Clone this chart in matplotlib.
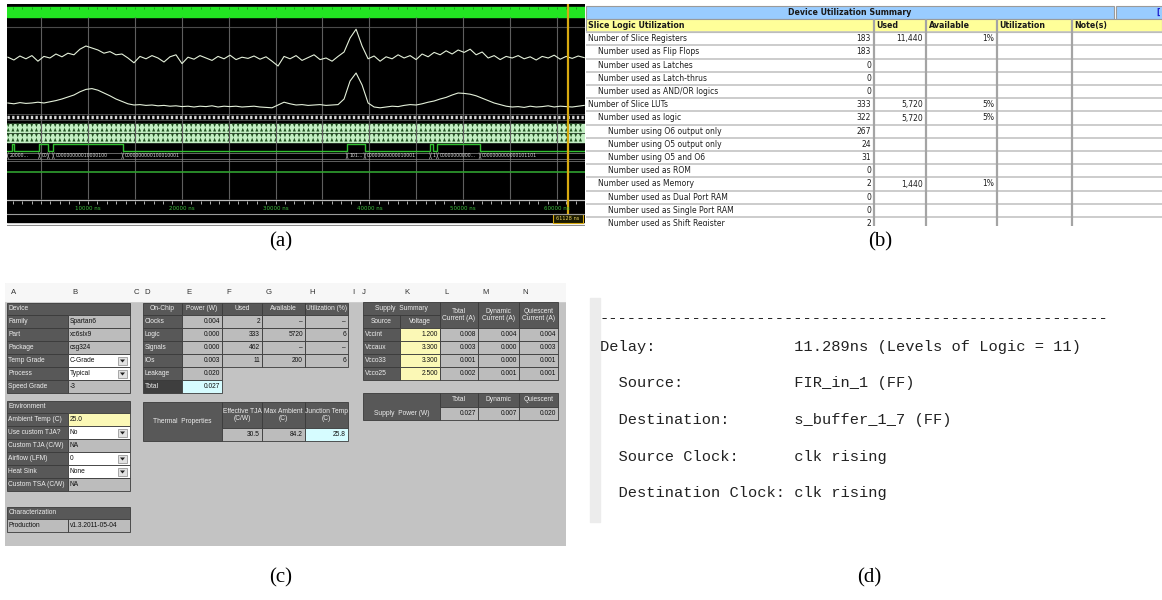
import numpy as np
import matplotlib.pyplot as plt
from matplotlib.patches import Rectangle, Polygon

plt.rcParams['font.family'] = ['DejaVu Sans']

W, H = 1162, 600

# ---------------- (a) simulation waveform ----------------
trace_start_ns = 1460
trace_step_ns = 640
filter_in = [32, 25, 35, 28, 36, 22, 34, 30, 40, 33,
             42, 38, 52, 60, 55, 50, 42, 46, 38, 40,
             30, 18, 34, 28, 36, 30, 20, 33, 38, 16,
             32, 27, 36, 30, 24, 34, 28, 37, 26, 32,
             29, 35, 27, 33, 22, 10, 34, 28, 36, 24,
             31, 38, 26, 30, 22, 34, 45, 80, 102, 60,
             28, 35, 22, 33, 28, 38, 30, 36, 26, 40,
             33, 44, 38, 48, 40, 50, 44, 52, 38, 45,
             30, 36, 26, 34, 30, 36, 28, 33, 25, 34,
             30, 37, 27, 34, 29, 35, 31]
filter_out = [30, 28, 31, 29, 30, 32, 30, 33, 36, 40,
              45, 50, 58, 64, 66, 62, 55, 48, 40, 34,
              28, 25, 26, 24, 25, 23, 24, 22, 23, 21,
              22, 20, 22, 21, 23, 20, 22, 21, 22, 20,
              21, 22, 20, 19, 18, 25, 32, 28, 25, 26,
              24, 25, 26, 24, 25, 26, 40, 85, 105, 75,
              30, 20, 18, 20, 22, 21, 24, 26, 25, 28,
              32, 35, 40, 44, 50, 55, 54, 52, 48, 42,
              36, 30, 26, 22, 20, 21, 19, 22, 20, 21,
              23, 20, 22, 21, 20, 22, 24]
valid_edges_ns = [1850, 2060, 4820, 5770, 6300, 13700, 37620, 39520,
                  46510, 46830, 47250, 51800]
bus_edges_ns = [1400, 4820, 5770, 6300, 13700, 37620, 39520, 46510, 47250, 51800]
bus_values = ['20000...', '00', '', '000000000010000100', '0000000000100010001',
              '101...', '00000000000010001', '1', '00000000000...',
              '0000000000000101101']
time_labels_ns = [10000, 20000, 30000, 40000, 50000, 60000]
cursor_ns = 61128

# ---------------- (b) device utilization ----------------
util_labels = ['Number of Slice Registers', 'Number used as Flip Flops',
               'Number used as Latches', 'Number used as Latch-thrus',
               'Number used as AND/OR logics', 'Number of Slice LUTs',
               'Number used as logic', 'Number using O6 output only',
               'Number using O5 output only', 'Number using O5 and O6',
               'Number used as ROM', 'Number used as Memory',
               'Number used as Dual Port RAM', 'Number used as Single Port RAM',
               'Number used as Shift Register']
util_level = [0, 1, 1, 1, 1, 0, 1, 2, 2, 2, 2, 1, 2, 2, 2]
util_used = ['183', '183', '0', '0', '0', '333', '322', '267', '24', '31', '0',
             '2', '0', '0', '2']
util_avail = ['11,440', '', '', '', '', '5,720', '5,720', '', '', '', '',
              '1,440', '', '', '']
util_pct = ['1%', '', '', '', '', '5%', '5%', '', '', '', '', '1%', '', '', '']
util_headers = ['Slice Logic Utilization', 'Used', 'Available', 'Utilization', 'Note(s)']

# ---------------- (c) power estimator ----------------
sheet_cols = list('ABCDEFGHIJKLMN')
device_labels = ['Family', 'Part', 'Package', 'Temp Grade', 'Process', 'Speed Grade']
device_values = ['Spartan6', 'xc6slx9', 'csg324', 'C-Grade', 'Typical', '-3']
device_kinds = ['grey', 'grey', 'grey', 'drop', 'drop', 'grey']
env_labels = ['Ambient Temp (C)', 'Use custom TJA?', 'Custom TJA (C/W)',
              'Airflow (LFM)', 'Heat Sink', 'Custom TSA (C/W)']
env_values = ['25.0', 'No', 'NA', '0', 'None', 'NA']
env_kinds = ['input', 'drop', 'grey', 'drop', 'drop', 'grey']
char_labels = ['Production']
char_values = ['v1.3.2011-05-04']
onchip_headers = ['On-Chip', 'Power (W)', 'Used', 'Available', 'Utilization (%)']
onchip_rows = ['Clocks', 'Logic', 'Signals', 'IOs', 'Leakage', 'Total']
onchip_power = ['0.004', '0.000', '0.000', '0.003', '0.020', '0.027']
onchip_used = ['2', '333', '462', '11', None, None]
onchip_avail = ['---', '5720', '---', '200', None, None]
onchip_util = ['---', '6', '---', '6', None, None]
thermal_headers = ['Effective TJA\n(C/W)', 'Max Ambient\n(C)', 'Junction Temp\n(C)']
thermal_values = ['30.5', '84.2', '25.8']
supply_sources = ['Vccint', 'Vccaux', 'Vcco33', 'Vcco25']
supply_voltage = ['1.200', '3.300', '3.300', '2.500']
supply_total = ['0.008', '0.003', '0.001', '0.002']
supply_dynamic = ['0.004', '0.000', '0.000', '0.001']
supply_quiescent = ['0.004', '0.003', '0.001', '0.001']
current_headers = ['Total', 'Dynamic', 'Quiescent']
supply_power = ['0.027', '0.007', '0.020']

# ---------------- (d) timing report ----------------
timing_keys = ['Delay:', '  Source:', '  Destination:', '  Source Clock:',
               '  Destination Clock:']
timing_values = ['11.289ns (Levels of Logic = 11)', 'FIR_in_1 (FF)',
                 's_buffer_1_7 (FF)', 'clk rising', 'clk rising']

panel_labels = ['(a)', '(b)', '(c)', '(d)']

# ======================================================================
fig = plt.figure(figsize=(W / 100, H / 100), dpi=100)
base = fig.add_axes([0, 0, 1, 1])
base.set_xlim(0, W)
base.set_ylim(H, 0)
base.axis('off')


def panel(x0, y0, x1, y1):
    ax = fig.add_axes([x0 / W, 1 - y1 / H, (x1 - x0) / W, (y1 - y0) / H])
    ax.set_xlim(x0, x1)
    ax.set_ylim(y1, y0)
    ax.axis('off')
    return ax


# ---------------- panel (a) ----------------
axA = panel(7, 4, 585, 226)
PX_PER_NS = 46.9 / 5000
X0 = -5.8


def tx(t):
    return X0 + np.asarray(t, dtype=float) * PX_PER_NS


axA.add_patch(Rectangle((7, 4), 578, 218, color='black'))
axA.axhline(224.5, color='#8c8c8c', lw=0.8)
axA.add_patch(Rectangle((7, 7), 578, 10, color='#22e622'))
axA.vlines(tx(np.arange(1000, 63000, 1000)), 7, 9, color='#149414', lw=0.6)
axA.axhline(27, color='#4a4a4a', lw=0.8)
axA.vlines(tx(np.arange(5000, 61000, 5000)), 17, 199, color='#5e5e5e', lw=0.8)

t_samples = trace_start_ns + trace_step_ns * np.arange(len(filter_in))
axA.plot(tx(t_samples), 70 - 0.4 * np.array(filter_in), color='#e4f0da', lw=0.8)
axA.plot(tx(t_samples), 115 - 0.4 * np.array(filter_out), color='#e4f0da', lw=0.8)

# dotted bus
axA.hlines([114.3, 119.7], 7, 585, color='#6a6a6a', lw=0.5)
axA.hlines(117, 7, 585, color='#d6d6d6', lw=2.4, linestyles=(0, (0.7, 0.7)))

# two fast busses
clk_edges = tx(np.arange(1000, 63000, 500))
for yc in (127.5, 137.5):
    axA.add_patch(Rectangle((7, yc - 4), 578, 8, color='#c2eec2'))
    for xe in clk_edges:
        axA.add_patch(Polygon([(xe - 1.5, yc - 4), (xe + 1.5, yc - 4), (xe, yc - 0.3)],
                              color='#1f4f1f', lw=0))
        axA.add_patch(Polygon([(xe - 1.5, yc + 4), (xe + 1.5, yc + 4), (xe, yc + 0.3)],
                              color='#1f4f1f', lw=0))

# valid signal
t_steps = [0] + valid_edges_ns + [64000]
levels = [(k % 2) for k in range(len(t_steps))]
axA.step(tx(t_steps), [151 - 7 * v for v in levels], where='post', color='#30c030', lw=1.0)

# output value bus
axA.hlines([152.8, 158.8], 7, 585, color='#8e8e8e', lw=0.5)
for t, val in zip(bus_edges_ns, bus_values):
    xe = float(tx(t))
    axA.plot([xe - 1, xe + 1], [152.8, 158.8], color='#a0a0a0', lw=0.5)
    axA.plot([xe - 1, xe + 1], [158.8, 152.8], color='#a0a0a0', lw=0.5)
    axA.text(xe + 2, 155.9, val, fontsize=3.3, color='#dadada', va='center',
             ha='left', clip_on=True)
axA.axhline(161, color='#707070', lw=0.6)
axA.axhline(171.5, color='#2fa02f', lw=1.2)

# time ruler
axA.axhline(199.5, color='#bcbcbc', lw=0.9)
axA.vlines(tx(np.arange(1000, 63000, 1000)), 201, 204, color='#b0b0b0', lw=0.7)
for t in time_labels_ns:
    axA.text(float(tx(t)), 209, f'{t} ns', fontsize=4.0, color='#3cc03c',
             ha='center', va='center', clip_on=True)
axA.axhline(213.5, color='#9a9a9a', lw=0.8)

xc = float(tx(cursor_ns))
axA.vlines(xc, 4, 214, color='#d8aa10', lw=1.6)
axA.add_patch(Rectangle((xc - 15, 214), 30, 9, fc='#1a1a00', ec='#d8aa10', lw=0.8))
axA.text(xc, 218.6, f'{cursor_ns} ns', fontsize=3.6, color='#e8d060',
         ha='center', va='center', clip_on=True)

# ---------------- panel (b) ----------------
axB = panel(585, 4, 1162, 226)
axB.add_patch(Rectangle((585, 4), 577, 222, color='white'))
col_x = [586, 874, 926, 997, 1072, 1162]
FS_B = 5.5
FS_BB = 5.7
axB.add_patch(Rectangle((586, 6), 528, 13, fc='#99ccff', ec='#9a9a9a', lw=0.8))
axB.add_patch(Rectangle((1116, 6), 50, 13, fc='#99ccff', ec='#9a9a9a', lw=0.8))
axB.text(850, 12.8, 'Device Utilization Summary', fontsize=FS_BB, weight='bold',
         color='#1a1a1a', ha='center', va='center')
axB.text(1156, 12.8, '[', fontsize=FS_BB, weight='bold', color='#1a1acc',
         ha='left', va='center', clip_on=True)
axB.add_patch(Rectangle((586, 19), 576, 13.2, fc='#ffff99', ec='#9a9a9a', lw=0.8))
for x0, h in zip(col_x, util_headers):
    axB.text(x0 + 2.5, 25.8, h, fontsize=FS_BB, weight='bold', color='#1a1a1a',
             ha='left', va='center')
row_top, row_h = 32.2, 13.2
ys = row_top + row_h * np.arange(len(util_labels) + 1)
axB.hlines(ys, 586, 1162, color='#c4c4c4', lw=1.2)
axB.vlines(col_x[1:-1], 19, 226, color='#a4a4a4', lw=1.6)
for i, lab in enumerate(util_labels):
    yc = row_top + row_h * (i + 0.5)
    axB.text(588 + 10 * util_level[i], yc, lab, fontsize=FS_B, color='#1e1e1e',
             va='center', ha='left', clip_on=True)
    for x_r, v in zip(col_x[1:4], (util_used[i], util_avail[i], util_pct[i])):
        if v:
            axB.text(x_r - 3, yc, v, fontsize=FS_B, color='#1e1e1e', va='center',
                     ha='right', clip_on=True)

# ---------------- panel (c) ----------------
axC = panel(5, 283, 566, 546)
DARK, DARKER, LIGHT = '#585858', '#3e3e3e', '#eeeeee'
GREY, YELLOW, CYAN = '#bcbcbc', '#fbf8b6', '#d6fcff'
FS_C = 4.75
FAM_C = 'Liberation Sans'
axC.add_patch(Rectangle((5, 283), 561, 263, color='#c3c3c3'))
axC.add_patch(Rectangle((5, 283), 561, 18, color='#f7f7f7'))
sheet_edges = [7, 68, 130, 140, 182, 222, 262, 305, 348, 358, 400, 440, 478, 518, 558]
for xe, letter in zip(sheet_edges, sheet_cols):
    axC.text(xe + 4, 293, letter, fontsize=5.6, color='#333333', family=FAM_C,
             ha='left', va='center')


def cell(x0, x1, y0, y1, fc, txt='', ha='left', color='#111111', ec='#3a3a3a'):
    axC.add_patch(Rectangle((x0, y0), x1 - x0, y1 - y0, fc=fc, ec=ec, lw=0.6))
    if txt:
        xt = {'left': x0 + 1.5, 'right': x1 - 2, 'center': (x0 + x1) / 2}[ha]
        axC.text(xt, (y0 + y1) / 2, txt, ha=ha, va='center', color=color,
                 fontsize=FS_C, family=FAM_C, linespacing=1.1, clip_on=True)


def dropdown(y0):
    axC.add_patch(Rectangle((118, y0 + 2.5), 9, 8, fc='#e2e2e2', ec='#8a8a8a', lw=0.5))
    axC.add_patch(Polygon([(120, y0 + 5.5), (125, y0 + 5.5), (122.5, y0 + 8.5)],
                          color='#202020', lw=0))


def section(top, title, labels, values, kinds):
    cell(7, 130, top, top + 12, DARK, title, color=LIGHT)
    for i, (lab, val, kind) in enumerate(zip(labels, values, kinds)):
        y0 = top + 12 + 13 * i
        if kind == 'plain':
            cell(7, 68, y0, y0 + 13, GREY, lab)
        else:
            cell(7, 68, y0, y0 + 13, DARK, lab, color=LIGHT)
        fc = {'grey': GREY, 'drop': 'white', 'input': YELLOW, 'plain': GREY}[kind]
        cell(68, 130, y0, y0 + 13, fc, val)
        if kind == 'drop':
            dropdown(y0)


section(303, 'Device', device_labels, device_values, device_kinds)
section(401, 'Environment', env_labels, env_values, env_kinds)
section(507, 'Characterization', char_labels, char_values, ['plain'])

oc = [143, 182, 222, 262, 305, 348]
for j, h in enumerate(onchip_headers):
    cell(oc[j], oc[j + 1], 303, 315, DARK, h, ha='center', color=LIGHT)
for i, name in enumerate(onchip_rows):
    y0 = 315 + 13 * i
    last = i == len(onchip_rows) - 1
    cell(oc[0], oc[1], y0, y0 + 13, DARKER if last else DARK, name, color=LIGHT)
    cell(oc[1], oc[2], y0, y0 + 13, CYAN if last else GREY, onchip_power[i], ha='right')
    if onchip_used[i] is not None:
        for j, v in enumerate((onchip_used[i], onchip_avail[i], onchip_util[i])):
            cell(oc[2 + j], oc[3 + j], y0, y0 + 13, GREY, v.replace('---', '\u2013'), ha='right')

cell(143, 222, 402, 441, DARK, 'Thermal  Properties', ha='center', color=LIGHT)
for j, (h, v) in enumerate(zip(thermal_headers, thermal_values)):
    cell(oc[2 + j], oc[3 + j], 402, 428, DARK, h, ha='center', color=LIGHT)
    cell(oc[2 + j], oc[3 + j], 428, 441, CYAN if j == 2 else GREY, v, ha='right')

sc = [363, 400, 440, 478, 519, 558]
cell(sc[0], sc[2], 302, 315, DARK, 'Supply  Summary', ha='center', color=LIGHT)
for k, h in enumerate(current_headers):
    cell(sc[2 + k], sc[3 + k], 302, 328, DARK, h + '\nCurrent (A)', ha='center', color=LIGHT)
cell(sc[0], sc[1], 315, 328, DARK, 'Source', ha='center', color=LIGHT)
cell(sc[1], sc[2], 315, 328, DARK, 'Voltage', ha='center', color=LIGHT)
for i, src in enumerate(supply_sources):
    y0 = 328 + 13 * i
    cell(sc[0], sc[1], y0, y0 + 13, DARK, src, color=LIGHT)
    cell(sc[1], sc[2], y0, y0 + 13, YELLOW, supply_voltage[i], ha='right')
    for k, v in enumerate((supply_total[i], supply_dynamic[i], supply_quiescent[i])):
        cell(sc[2 + k], sc[3 + k], y0, y0 + 13, GREY, v, ha='right')

cell(sc[0], sc[2], 393, 420, DARK)
axC.text((sc[0] + sc[2]) / 2, 413.5, 'Supply  Power (W)', ha='center', va='center',
         color=LIGHT, fontsize=FS_C, family=FAM_C)
for k, (h, v) in enumerate(zip(current_headers, supply_power)):
    cell(sc[2 + k], sc[3 + k], 393, 406.5, DARK, h, ha='center', color=LIGHT)
    cell(sc[2 + k], sc[3 + k], 406.5, 420, GREY, v, ha='right')

# ---------------- panel (d) ----------------
axD = panel(588, 292, 1162, 528)
axD.add_patch(Rectangle((590, 298), 10, 224, color='#ececec'))
FS_D = 11.1
axD.text(600, 318, '-' * 55, family='Liberation Mono', fontsize=FS_D,
         color='#222222', ha='left', va='center')
for k, (key, val) in enumerate(zip(timing_keys, timing_values)):
    axD.text(600, 347 + 36.5 * k, f'{key:<21}{val}', family='Liberation Mono',
             fontsize=FS_D, color='#222222', ha='left', va='center')

# ---------------- sub-figure labels ----------------
for (x, y), lab in zip([(281, 242), (880, 242), (281, 578), (869, 578)], panel_labels):
    base.text(x, y, lab, family='Liberation Serif', fontsize=15, color='black',
              ha='center', va='center')

fig.savefig('out.png', dpi=100)
